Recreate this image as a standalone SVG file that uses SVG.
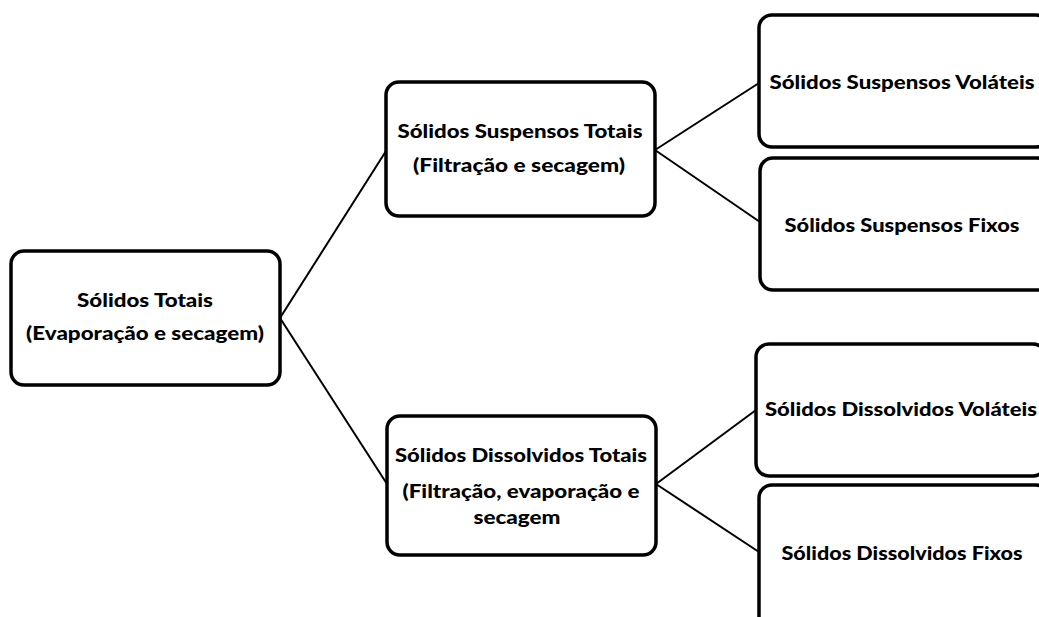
<svg xmlns="http://www.w3.org/2000/svg" width="1039" height="617" viewBox="0 0 1039 617">
<style>
.box{fill:#fff;stroke:#000;stroke-width:3.5}
.t{font-family:Lato,"Open Sans","Liberation Sans",sans-serif;font-weight:900;font-size:19px;fill:#000;text-anchor:middle}
.c{stroke:#000;stroke-width:2;fill:none}
</style>
<rect width="1039" height="617" fill="#fff"/>
<g id="connectors">
<line class="c" x1="280" y1="318" x2="386" y2="151"/>
<line class="c" x1="280" y1="318" x2="387" y2="484"/>
<line class="c" x1="655" y1="150" x2="759" y2="83"/>
<line class="c" x1="655" y1="150" x2="760" y2="222"/>
<line class="c" x1="656" y1="484" x2="756" y2="410"/>
<line class="c" x1="656" y1="484" x2="759" y2="552"/>
</g>
<g id="n_totais">
<rect class="box" x="11" y="251" width="269" height="134" rx="13"/>
<text class="t" x="145" y="307" textLength="136" lengthAdjust="spacingAndGlyphs">Sólidos Totais</text>
<text class="t" x="145" y="340" textLength="238" lengthAdjust="spacingAndGlyphs">(Evaporação e secagem)</text>
</g>
<g id="n_sst">
<rect class="box" x="386" y="82" width="269" height="134" rx="13"/>
<text class="t" x="520" y="138" textLength="245" lengthAdjust="spacingAndGlyphs">Sólidos Suspensos Totais</text>
<text class="t" x="519" y="172" textLength="212" lengthAdjust="spacingAndGlyphs">(Filtração e secagem)</text>
</g>
<g id="n_sdt">
<rect class="box" x="387" y="416" width="269" height="139" rx="13"/>
<text class="t" x="521" y="462" textLength="252" lengthAdjust="spacingAndGlyphs">Sólidos Dissolvidos Totais</text>
<text class="t" x="521" y="498" textLength="237" lengthAdjust="spacingAndGlyphs">(Filtração, evaporação e</text>
<text class="t" x="517" y="524" textLength="87" lengthAdjust="spacingAndGlyphs">secagem</text>
</g>
<g id="n_ssv">
<rect class="box" x="759" y="15" width="290" height="132" rx="13"/>
<text class="t" x="902" y="89" textLength="265" lengthAdjust="spacingAndGlyphs">Sólidos Suspensos Voláteis</text>
</g>
<g id="n_ssf">
<rect class="box" x="760" y="158" width="290" height="132" rx="13"/>
<text class="t" x="902" y="232" textLength="235" lengthAdjust="spacingAndGlyphs">Sólidos Suspensos Fixos</text>
</g>
<g id="n_sdv">
<rect class="box" x="756" y="344" width="290" height="132" rx="13"/>
<text class="t" x="901" y="416" textLength="272" lengthAdjust="spacingAndGlyphs">Sólidos Dissolvidos Voláteis</text>
</g>
<g id="n_sdf">
<rect class="box" x="759" y="485" width="290" height="145" rx="13"/>
<text class="t" x="902" y="560" textLength="241" lengthAdjust="spacingAndGlyphs">Sólidos Dissolvidos Fixos</text>
</g>
</svg>
